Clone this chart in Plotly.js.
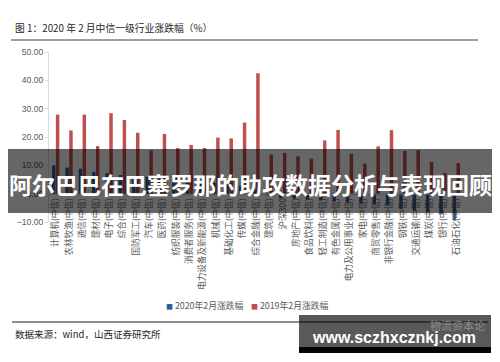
<!DOCTYPE html>
<html>
<head>
<meta charset="utf-8">
<script src="https://cdn.plot.ly/plotly-3.0.1.min.js"></script>
<style>
  html, body { margin: 0; padding: 0; background: #ffffff; }
  #chart { width: 500px; height: 362px; }
</style>
</head>
<body>
<div id="chart"></div>
<script>
// ---- data ----
const categories = [
  "计算机(中信)", "农林牧渔(中信)", "通信(中信)", "建材(中信)", "电子(中信)",
  "综合(中信)", "国防军工(中信)", "汽车(中信)", "医药(中信)", "纺织服装(中信)",
  "消费者服务(中信)", "电力设备及新能源(中信)", "机械(中信)", "基础化工(中信)", "传媒(中信)",
  "综合金融(中信)", "建筑(中信)", "沪深300", "房地产(中信)", "食品饮料(中信)",
  "轻工制造(中信)", "有色金属(中信)", "电力及公用事业(中信)", "家电(中信)", "商贸零售(中信)",
  "非银行金融(中信)", "钢铁(中信)", "交通运输(中信)", "煤炭(中信)", "银行(中信)",
  "石油石化(中信)"
];
const ret2020 = [
  10.0, 9.2, 8.8, 7.6, 7.2,
  6.6, 6.2, 6.0, 5.8, 5.6,
  4.9, 4.5, 3.9, 3.3, 2.8,
  1.6, -0.6, -1.6, -1.8, -2.1,
  -2.4, -2.7, -3.1, -3.4, -3.7,
  -4.1, -5.4, -6.0, -6.6, -7.2,
  -9.5
];
const ret2019 = [
  27.9, 22.3, 27.9, 16.8, 28.4,
  26.0, 21.5, 15.3, 21.1, 16.1,
  17.2, 16.1, 19.8, 19.5, 25.1,
  42.5, 13.8, 14.4, 13.2, 12.4,
  18.8, 22.5, 14.1, 10.6, 16.7,
  22.4, 15.1, 15.4, 11.2, 7.3,
  10.8
];
const seriesNames = ["2020年2月涨跌幅", "2019年2月涨跌幅"];
const yTicks = [-10, 0, 10, 20, 30, 40, 50];

// ---- styling / layout ----
const W = 500, H = 362;
const M = { l: 49, r: 37, t: 52, b: 140 };
const PW = W - M.l - M.r, PH = H - M.t - M.b;
const px = x => (x - M.l) / PW;       // pixel -> paper x
const py = y => (H - M.b - y) / PH;   // pixel -> paper y

const blue = "#2f5f9e";
const red = "#c0504d";
const cjk = "'Noto Sans CJK SC', 'Noto Sans', sans-serif";

const traces = [
  { type: "bar", name: seriesNames[0], x: categories, y: ret2020,
    marker: { color: blue }, hoverinfo: "skip" },
  { type: "bar", name: seriesNames[1], x: categories, y: ret2019,
    marker: { color: red }, hoverinfo: "skip" }
];

const yMin = yTicks[0], yMax = yTicks[yTicks.length - 1];

const layout = {
  width: W, height: H,
  margin: M,
  paper_bgcolor: "#ffffff",
  plot_bgcolor: "#ffffff",
  showlegend: false,
  barmode: "group",
  bargap: 0.42,
  bargroupgap: 0.1,
  font: { family: cjk, color: "#595959" },
  xaxis: {
    type: "category",
    anchor: "free",
    position: (0 - yMin) / (yMax - yMin),
    showline: true, linecolor: "#d9d9d9", linewidth: 1,
    showgrid: false, zeroline: false,
    ticks: "", tickangle: -90,
    tickfont: { family: cjk, size: 8.6, color: "#595959" },
    automargin: false
  },
  yaxis: {
    range: [yMin, yMax],
    tickvals: yTicks,
    tickformat: ".2f",
    showline: true, linecolor: "#d9d9d9", linewidth: 1,
    ticks: "outside", ticklen: 3, tickcolor: "#d9d9d9",
    showgrid: false, zeroline: false,
    tickfont: { family: "'Liberation Sans', Arial, sans-serif", size: 8.6, color: "#595959" },
    automargin: false
  },
  shapes: [
    // header rule
    { type: "line", xref: "paper", yref: "paper", x0: px(11), x1: px(478), y0: py(40), y1: py(40),
      line: { color: "#7f7f7f", width: 1.5 } },
    // footer rule
    { type: "line", xref: "paper", yref: "paper", x0: px(12), x1: px(488), y0: py(322), y1: py(322),
      line: { color: "#1a1a1a", width: 1 } },
    // overlay banner
    { type: "rect", xref: "paper", yref: "paper", layer: "above",
      x0: px(8), x1: px(492), y0: py(213), y1: py(149),
      fillcolor: "rgba(0,0,0,0.6)", line: { width: 0 } },
    // watermark box
    { type: "rect", xref: "paper", yref: "paper", layer: "above",
      x0: px(299), x1: px(491), y0: py(347), y1: py(315),
      fillcolor: "rgba(0,0,0,0.65)", line: { width: 0 } },
    { type: "rect", xref: "paper", yref: "paper", layer: "above",
      x0: px(299), x1: px(491), y0: py(353), y1: py(347),
      fillcolor: "#050505", line: { width: 0 } }
  ],
  annotations: [
    { xref: "paper", yref: "paper", x: px(13), y: py(28), xanchor: "left", yanchor: "middle",
      showarrow: false, text: "图 1：2020 年 2 月中信一级行业涨跌幅（%）",
      font: { family: cjk, size: 9.8, color: "#262626" } },
    { xref: "paper", yref: "paper", x: px(13), y: py(334), xanchor: "left", yanchor: "middle",
      showarrow: false, text: "数据来源：wind，山西证券研究所",
      font: { family: cjk, size: 9.5, color: "#262626" } },
    // legend (manual, small square markers)
    { xref: "paper", yref: "paper", x: px(164), y: py(305), xanchor: "left", yanchor: "middle",
      showarrow: false,
      text: "<span style='color:" + blue + ";font-size:7px'>■</span> " + seriesNames[0],
      font: { family: cjk, size: 8.8, color: "#595959" } },
    { xref: "paper", yref: "paper", x: px(249), y: py(305), xanchor: "left", yanchor: "middle",
      showarrow: false,
      text: "<span style='color:" + red + ";font-size:7px'>■</span> " + seriesNames[1],
      font: { family: cjk, size: 8.8, color: "#595959" } },
    // banner text
    { xref: "paper", yref: "paper", x: px(250), y: py(184), xanchor: "center", yanchor: "middle",
      showarrow: false, text: "<b>阿尔巴巴在巴塞罗那的助攻数据分析与表现回顾</b>",
      font: { family: cjk, size: 23, color: "#ffffff" } },
    // faint watermark
    { xref: "paper", yref: "paper", x: px(487), y: py(325), xanchor: "right", yanchor: "middle",
      showarrow: false, text: "物流资本论",
      font: { family: cjk, size: 11, color: "rgba(190,190,190,0.55)" } },
    { xref: "paper", yref: "paper", x: px(394), y: py(337), xanchor: "center", yanchor: "middle",
      showarrow: false, text: "<b>www.sczhxcznkj.com</b>",
      font: { family: "'Liberation Sans', Arial, sans-serif", size: 16, color: "#ffffff" } }
  ]
};

Plotly.newPlot("chart", traces, layout, { staticPlot: true, displayModeBar: false });
</script>
</body>
</html>
